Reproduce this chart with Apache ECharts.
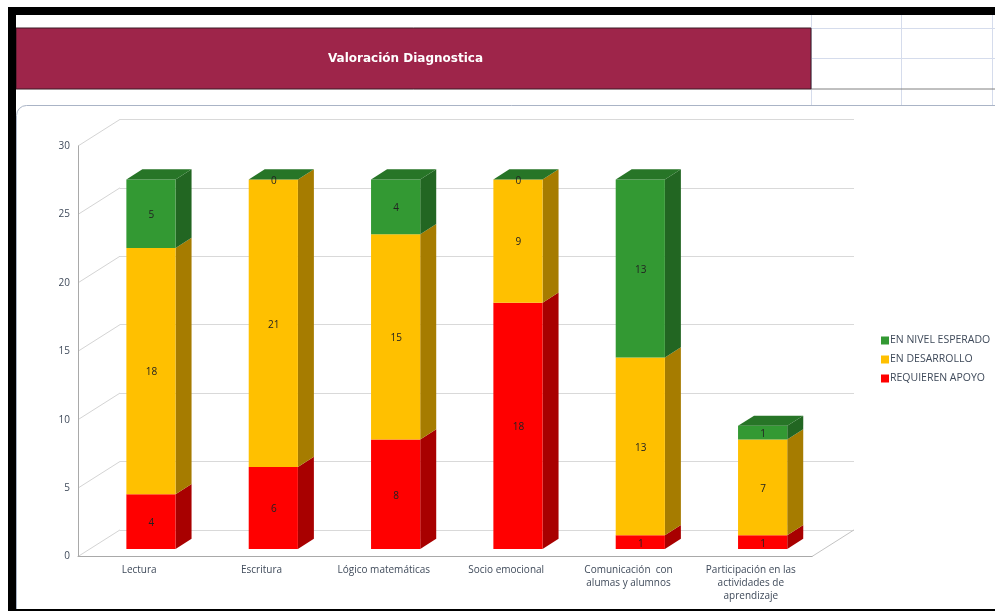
<!DOCTYPE html>
<html>
<head>
<meta charset="utf-8">
<style>html,body{margin:0;padding:0;background:#fff}#c{width:995px;height:611px}</style>
<script src="https://cdn.jsdelivr.net/npm/echarts@6/dist/echarts.min.js"></script>
</head>
<body>
<div id="c"></div>
<script>
const categories = ['Lectura','Escritura','Lógico matemáticas','Socio emocional','Comunicación  con\nalumas y alumnos','Participación en las\nactividades de\naprendizaje'];
const requierenApoyo = [4,6,8,18,1,1];
const enDesarrollo = [18,21,15,9,13,7];
const enNivelEsperado = [5,0,4,0,13,1];
const yTicks = [0,5,10,15,20,25,30];
const chartTitle = 'Valoración Diagnostica';
const seriesNames = ['REQUIEREN APOYO','EN DESARROLLO','EN NIVEL ESPERADO'];

const FONT = '"Open Sans", sans-serif';
const TEXT = '#3f4a5a';
const WALL = {dx:42, dy:-26.6};
const BASE = {dx:11.8, dy:-7.5};
const DEPTH = {dx:16, dy:-10.2};
const BAR_RATIO = 0.402;

const stacks = [requierenApoyo, enDesarrollo, enNivelEsperado];
const looks = [
  {front:'#ff0000', side:'#a80000', top:'#a80000'},
  {front:'#ffc000', side:'#a67c00', top:'#a67c00'},
  {front:'#339933', side:'#226622', top:'#277527'}
];

function bar3d(seriesIdx){
  return function(params, api){
    const i = api.value(0), v = api.value(1), base = api.value(2);
    const w = api.size([1,0])[0] * BAR_RATIO;
    const c0 = api.coord([i, base]), c1 = api.coord([i, base + v]);
    const x0 = c0[0] + BASE.dx - w/2, x1 = x0 + w;
    const yb = c0[1] + BASE.dy, yt = c1[1] + BASE.dy;
    const L = looks[seriesIdx], kids = [];
    const dx = DEPTH.dx, dy = DEPTH.dy;
    if (v > 0) {
      kids.push({type:'polygon', shape:{points:[[x1,yb],[x1+dx,yb+dy],[x1+dx,yt+dy],[x1,yt]]}, style:{fill:L.side}});
      kids.push({type:'rect', shape:{x:x0,y:yt,width:w,height:yb-yt}, style:{fill:L.front}});
    }
    if (seriesIdx === stacks.length - 1) {
      kids.push({type:'polygon', shape:{points:[[x0,yt],[x1,yt],[x1+dx,yt+dy],[x0+dx,yt+dy]]}, style:{fill:L.top}});
    }
    kids.push({type:'text', z2:5, style:{text:String(v), x:(x0+x1)/2+0.5, y:(yb+yt)/2+1.5, align:'center', verticalAlign:'middle', font:'10px '+FONT, fill:'#222'}});
    return {type:'group', children:kids};
  };
}

const series3d = stacks.map(function(vals, s){
  return {
    type:'custom', name:seriesNames[s], xAxisIndex:0, yAxisIndex:0, clip:false, z:5+s,
    itemStyle:{color:looks[s].front},
    encode:{x:0,y:1},
    renderItem:bar3d(s),
    data:vals.map(function(v,i){
      let base = 0;
      for (let k=0;k<s;k++) base += stacks[k][i];
      return [i,v,base];
    })
  };
});

const wallSeries = {
  type:'custom', xAxisIndex:0, yAxisIndex:0, clip:false, z:3, silent:true,
  encode:{y:0},
  data:yTicks.map(function(t){return [t];}),
  renderItem:function(params, api){
    const t = api.value(0), y = api.coord([0,t])[1];
    const x = params.coordSys.x, xr = x + params.coordSys.width;
    const kids = [{type:'line', shape:{x1:x,y1:y,x2:x+WALL.dx,y2:y+WALL.dy}, style:{stroke:'#d4d4d4',lineWidth:1}}];
    if (t === 0) kids.push({type:'line', shape:{x1:xr,y1:y,x2:xr+WALL.dx,y2:y+WALL.dy}, style:{stroke:'#c4c4c4',lineWidth:1}});
    return {type:'group', children:kids};
  }
};

function sheetLine(x1,y1,x2,y2,color,w){
  return {type:'line', z:1, silent:true, shape:{x1:x1,y1:y1,x2:x2,y2:y2}, style:{stroke:color,lineWidth:w||1}};
}

const chart = echarts.init(document.getElementById('c'), null, {renderer:'canvas'});
chart.setOption({
  animation:false,
  backgroundColor:'#ffffff',
  title:{
    text:chartTitle, left:400.5, top:48, textAlign:'center', z:10,
    textStyle:{color:'#ffffff',fontFamily:'"DejaVu Sans", sans-serif',fontWeight:'bold',fontSize:12}
  },
  legend:{
    orient:'vertical', left:881, top:335, padding:0, icon:'rect', itemWidth:8, itemHeight:8, itemGap:8, z:6,
    data:seriesNames.slice().reverse(), selectedMode:false,
    textStyle:{color:TEXT,fontFamily:FONT,fontSize:10.5,padding:[0,0,0,-4]}
  },
  grid:[
    {left:78, top:146, width:734, height:410.5},
    {left:120, top:119.4, width:734, height:410.5}
  ],
  xAxis:[
    {type:'category', gridIndex:0, data:categories, boundaryGap:true, z:4,
     axisTick:{show:false}, axisLine:{show:true,lineStyle:{color:'#a9a9a9',width:1}},
     axisLabel:{margin:7.5,interval:0,color:TEXT,fontFamily:FONT,fontSize:10,lineHeight:13}},
    {type:'category', gridIndex:1, data:categories, show:false}
  ],
  yAxis:[
    {type:'value', gridIndex:0, min:0, max:30, interval:5, z:4,
     axisLine:{show:true,lineStyle:{color:'#a9a9a9',width:1}}, axisTick:{show:false}, splitLine:{show:false},
     axisLabel:{margin:8,color:TEXT,fontFamily:FONT,fontSize:10,padding:[2,0,0,0]}},
    {type:'value', gridIndex:1, min:0, max:30, interval:5, z:2,
     axisLine:{show:false}, axisTick:{show:false}, axisLabel:{show:false},
     splitLine:{show:true,lineStyle:{color:'#d9d9d9',width:1}}}
  ],
  series:[wallSeries].concat(series3d),
  graphic:{elements:[
    sheetLine(811.5,15,811.5,105,'#d5dcec'),
    sheetLine(901.5,15,901.5,105,'#d5dcec'),
    sheetLine(992.5,15,992.5,105,'#d5dcec'),
    sheetLine(811,28.5,995,28.5,'#d5dcec'),
    sheetLine(811,58.5,995,58.5,'#d5dcec'),
    sheetLine(811,89,995,89,'#808080',1),
    {type:'rect', z:0, silent:true, shape:{x:16.5,y:105.5,width:1000,height:520,r:10}, style:{fill:'#ffffff',stroke:'#aab4c6',lineWidth:1}},
    {type:'rect', z:1, silent:true, shape:{x:16,y:28,width:795,height:61}, style:{fill:'#9e254a',stroke:'#3a1a24',lineWidth:1}},
    {type:'rect', z:20, silent:true, shape:{x:8,y:7,width:987,height:8}, style:{fill:'#000'}},
    {type:'rect', z:20, silent:true, shape:{x:8,y:7,width:8,height:604}, style:{fill:'#000'}},
    {type:'rect', z:20, silent:true, shape:{x:8,y:609,width:987,height:2}, style:{fill:'#000'}}
  ]}
});
</script>
</body>
</html>
